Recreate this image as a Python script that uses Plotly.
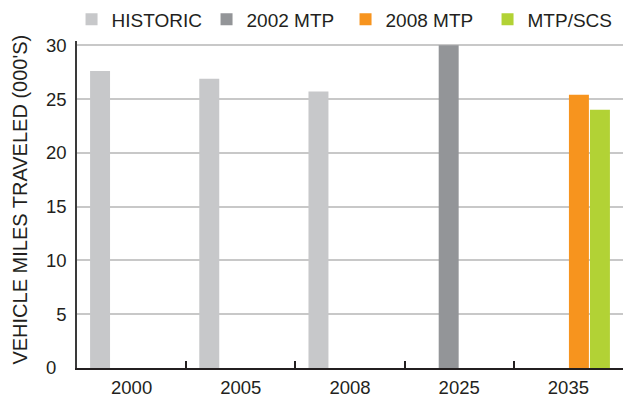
import plotly.graph_objects as go

categories = ["2000", "2005", "2008", "2025", "2035"]
historic = [27.6, 26.9, 25.7, None, None]
mtp_2002 = [None, None, None, 30.0, None]
mtp_2008 = [None, None, None, None, 25.4]
mtp_scs = [None, None, None, None, 24.0]

series_names = ["HISTORIC", "2002 MTP", "2008 MTP", "MTP/SCS"]
series_values = [historic, mtp_2002, mtp_2008, mtp_scs]
series_colors = ["#c7c8ca", "#939598", "#f7941e", "#b2d235"]
legend_widths = [90, 94, 97, 90]

y_tick_vals = [0, 5, 10, 15, 20, 25, 30]
y_tick_text = ["0\u2007", "5", "10", "15", "20", "25", "30"]
y_title = "VEHICLE MILES TRAVELED (000'S)"

FONT = "Liberation Sans, Arial, Helvetica, sans-serif"
INK = "#231f20"

fig = go.Figure()
for name, vals, col, lw in zip(series_names, series_values, series_colors, legend_widths):
    fig.add_trace(go.Bar(x=categories, y=vals, name=name, legendwidth=lw,
                         marker=dict(color=col, line=dict(width=0))))

fig.update_layout(
    width=623, height=398,
    margin=dict(l=77, r=0, t=41, b=30, autoexpand=False),
    paper_bgcolor="white", plot_bgcolor="white",
    barmode="group", bargap=0.23, bargroupgap=0.05,
    font=dict(family=FONT, color=INK, size=18.5),
    showlegend=True,
    legend=dict(orientation="h", x=-0.01, xanchor="left", y=1.066, yanchor="middle",
                font=dict(size=19, color=INK),
                bgcolor="rgba(0,0,0,0)", traceorder="normal"),
    xaxis=dict(type="category", showline=True, linecolor=INK, linewidth=2,
               ticks="inside", tickson="boundaries", ticklen=7, tickwidth=1.5,
               tickcolor=INK, showgrid=False, tickfont=dict(size=18.5, color=INK),
               ticklabelstandoff=2, automargin=False),
    yaxis=dict(range=[0, 30.4], tickvals=y_tick_vals, ticktext=y_tick_text,
               showline=True, linecolor="#3a3a3a", linewidth=1.5,
               showgrid=True, gridcolor="#c8c8c8", gridwidth=1.5,
               zeroline=False, ticks="", ticklabelstandoff=5, automargin=False,
               tickfont=dict(size=18.5, color=INK)),
    annotations=[dict(text=y_title, xref="paper", yref="paper",
                      x=-0.1044, y=0.515, xanchor="center", yanchor="middle",
                      textangle=-90, showarrow=False,
                      font=dict(size=20, color=INK, family=FONT))],
)

fig.write_html("out.html", config={"displayModeBar": False},
               post_script="document.body.style.margin='0';")
